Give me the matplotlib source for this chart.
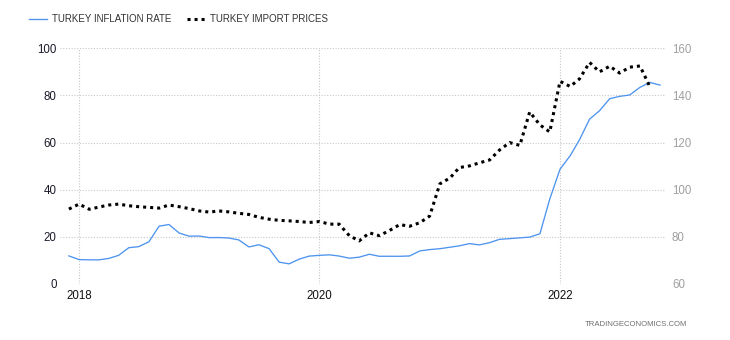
import matplotlib
matplotlib.use("Agg")
import matplotlib.pyplot as plt
import pandas as pd

plt.rcParams['font.family'] = ['Liberation Sans', 'DejaVu Sans']

# Monthly data, Dec 2017 onwards
inflation_start = '2017-12-01'
inflation_rate = [11.92, 10.35, 10.26, 10.23, 10.85, 12.15, 15.39, 15.85, 17.90, 24.52,
                  25.24, 21.62, 20.30, 20.35, 19.67, 19.71, 19.50, 18.71, 15.72, 16.65,
                  15.01, 9.26, 8.55, 10.56, 11.84, 12.15, 12.37, 11.86, 10.94, 11.39,
                  12.62, 11.76, 11.77, 11.75, 11.89, 14.03, 14.60, 14.97, 15.61, 16.19,
                  17.14, 16.59, 17.53, 18.95, 19.25, 19.58, 19.89, 21.31, 36.08, 48.69,
                  54.44, 61.14, 69.97, 73.50, 78.62, 79.60, 80.21, 83.45, 85.51, 84.39]

import_start = '2017-12-01'
import_prices = [91.8, 93.9, 91.7, 92.6, 93.5, 93.9, 93.2, 92.8, 92.5, 92.2,
                 93.5, 92.8, 92.0, 91.0, 90.5, 91.0, 90.6, 90.0, 89.5, 88.3,
                 87.5, 87.0, 86.8, 86.5, 86.1, 86.5, 85.4, 85.4, 80.5, 78.3,
                 81.7, 80.5, 82.7, 85.2, 84.5, 86.0, 88.8, 102.5, 105.0, 109.4,
                 110.1, 111.4, 112.6, 116.8, 120.0, 118.8, 133.0, 127.5, 124.5, 146.0,
                 143.8, 147.0, 154.0, 150.0, 152.4, 149.5, 152.0, 152.5, 143.7]

left_ticks = [0, 20, 40, 60, 80, 100]
right_ticks = [60, 80, 100, 120, 140, 160]
year_ticks = ['2018-01-01', '2020-01-01', '2022-01-01']
year_labels = ['2018', '2020', '2022']

inf_dates = pd.date_range(inflation_start, periods=len(inflation_rate), freq='MS')
imp_dates = pd.date_range(import_start, periods=len(import_prices), freq='MS')

fig = plt.figure(figsize=(7.3, 3.4), dpi=100)
ax = fig.add_axes([60/730, 56/340, 605/730, 235.7/340])
ax2 = ax.twinx()

l1, = ax.plot(inf_dates, inflation_rate, color='#4d94ee', lw=0.95,
              label='TURKEY INFLATION RATE', zorder=3)
l2, = ax2.plot(imp_dates, import_prices, color='black', lw=2.2,
               linestyle=(0, (1, 1.3)), label='TURKEY IMPORT PRICES', zorder=3)

ax.set_ylim(0, 100)
ax2.set_ylim(60, 160)
ax.set_yticks(left_ticks)
ax2.set_yticks(right_ticks)
ax.set_xlim(pd.Timestamp('2017-11-04'), pd.Timestamp('2022-11-16'))
ax.set_xticks([pd.Timestamp(d) for d in year_ticks])
ax.set_xticklabels(year_labels)

for a in (ax, ax2):
    for s in a.spines.values():
        s.set_visible(False)

ax.grid(True, color='#c8c8c8', linestyle=(0, (1, 1.5)), lw=0.8)
ax.set_axisbelow(True)
ax.tick_params(axis='y', length=0, pad=2.5, labelsize=8.3, colors='#1a1a2a')
ax.tick_params(axis='x', length=0, pad=4.5, labelsize=8.3, colors='#111111')
ax2.tick_params(axis='y', length=0, pad=5, labelsize=8.3, colors='#a0a0a0')

fig.legend(handles=[l1, l2], loc='center left', bbox_to_anchor=(29/730, 1 - 19/340),
           ncol=2, frameon=False, fontsize=7, handlelength=1.9, handletextpad=0.45,
           columnspacing=1.6, labelcolor='#333333', borderaxespad=0, borderpad=0)

fig.text(687/730, 1 - 325/340, 'TRADINGECONOMICS.COM', ha='right', va='center',
         fontsize=5.6, color='#707070')

fig.savefig('out.png', dpi=100)
